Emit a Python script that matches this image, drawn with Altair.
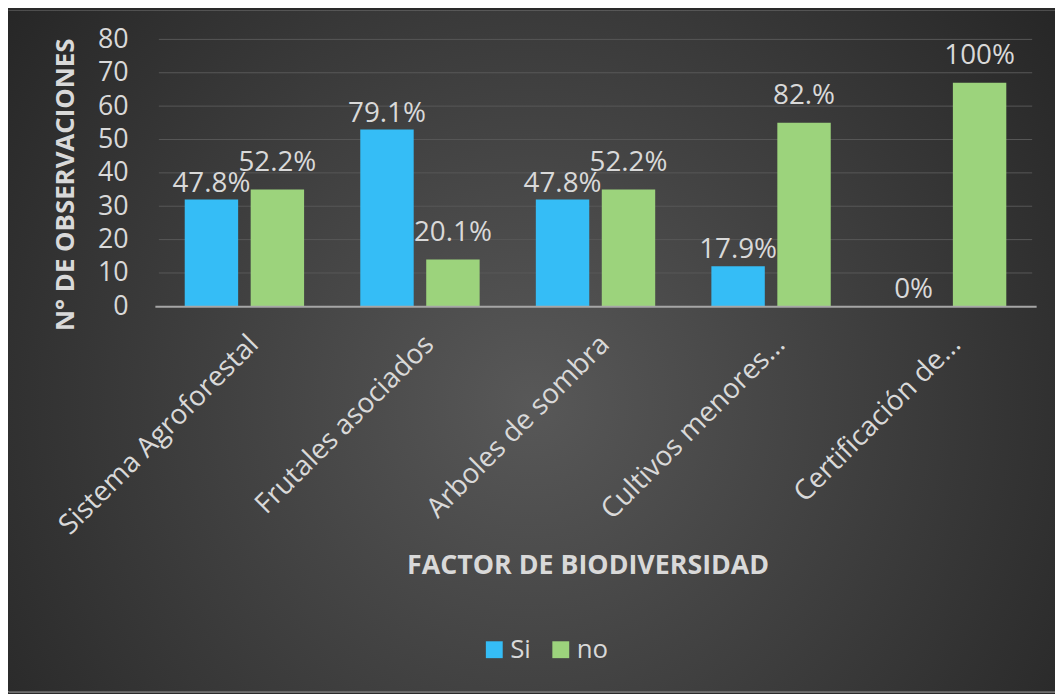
import altair as alt
import pandas as pd

categories = ["Sistema Agroforestal", "Frutales asociados", "Arboles de sombra",
              "Cultivos menores...", "Certificación de..."]
series = ["Si", "no"]
si_values = [32, 53, 32, 12, 0]
no_values = [35, 14, 35, 55, 67]
si_labels = ["47.8%", "79.1%", "47.8%", "17.9%", "0%"]
no_labels = ["52.2%", "20.1%", "52.2%", "82.%", "100%"]
y_ticks = [0, 10, 20, 30, 40, 50, 60, 70, 80]
grid_ticks = [10, 20, 30, 40, 50, 60, 70, 80]
colors = ["#35bdf6", "#9cd37c"]

rows = []
for i, c in enumerate(categories):
    rows.append({"cat": c, "serie": "Si", "val": si_values[i], "lab": si_labels[i]})
    rows.append({"cat": c, "serie": "no", "val": no_values[i], "lab": no_labels[i]})
df = pd.DataFrame(rows)
grid_df = pd.DataFrame({"val": grid_ticks})
bg_df = pd.DataFrame({"k": [0]})

FONT = "Open Sans"
TXT = "#d9d9d9"

x_scale = alt.Scale(domain=categories, range=[148, 1036], paddingInner=0.32, paddingOuter=0.17)
y_scale = alt.Scale(domain=[0, 80], range=[298, 29])
off_scale = alt.Scale(domain=series, paddingInner=0.19, paddingOuter=0)

x_axis = alt.Axis(
    title="FACTOR DE BIODIVERSIDAD", labelAngle=-45, labelFont=FONT, labelFontSize=28,
    labelColor=TXT, labelPadding=24, labelLimit=600, ticks=False, grid=False,
    domainColor="#a6a6a6", domainWidth=2, offset=-388, zindex=1,
    titleFont=FONT, titleFontSize=27, titleFontWeight="bold", titleColor=TXT,
    titleX=584, titleY=261, titleBaseline="middle", titleAlign="center",
)
y_axis = alt.Axis(
    values=y_ticks, title="N° DE OBSERVACIONES", labelFont=FONT, labelFontSize=27,
    labelColor=TXT, labelPadding=31, ticks=False, domain=False, grid=False, offset=-152,
    zindex=1,
    titleFont=FONT, titleFontSize=26, titleFontWeight="bold", titleColor=TXT,
    titleX=-94, titleY=175, titleBaseline="middle", titleAlign="center", titleAngle=270,
)

bg = {
    "gradient": "radial",
    "x1": 0.5, "y1": 0.55, "r1": 0,
    "x2": 0.5, "y2": 0.55, "r2": 0.72,
    "stops": [
        {"offset": 0, "color": "#585858"},
        {"offset": 1, "color": "#1f1f1f"},
    ],
}

background = alt.Chart(bg_df).mark_rect(fill=bg, strokeWidth=0).encode(
    x=alt.value(0), x2=alt.value(1055), y=alt.value(0), y2=alt.value(686),
)

bars = alt.Chart(df).mark_bar().encode(
    x=alt.X("cat:N", scale=x_scale, sort=categories, axis=x_axis),
    xOffset=alt.XOffset("serie:N", scale=off_scale, sort=series),
    y=alt.Y("val:Q", scale=y_scale, axis=y_axis),
    color=alt.Color("serie:N", scale=alt.Scale(domain=series, range=colors), sort=series,
                    legend=alt.Legend(orient="none", legendX=477, legendY=631, direction="horizontal",
                                      title=None, symbolType="square", symbolSize=289,
                                      symbolStrokeWidth=0, labelFont=FONT, labelFontSize=26,
                                      labelColor=TXT, columnPadding=17, labelOffset=3, zindex=1)),
)

grid = alt.Chart(grid_df).mark_rule(color="#585858", strokeWidth=1).encode(
    y=alt.Y("val:Q", scale=y_scale, axis=y_axis),
    x=alt.value(152), x2=alt.value(1032),
)


def label_layer(serie, dy):
    return alt.Chart(df).transform_filter(alt.datum.serie == serie).mark_text(
        baseline="bottom", dy=dy, font=FONT, fontSize=28, color=TXT
    ).encode(
        x=alt.X("cat:N", scale=x_scale, sort=categories),
        xOffset=alt.XOffset("serie:N", scale=off_scale, sort=series),
        y=alt.Y("val:Q", scale=y_scale),
        text="lab:N",
    )


labels_si = label_layer("Si", -2)
labels_no = label_layer("no", -13)

chart = alt.layer(background, grid, bars, labels_si, labels_no).properties(
    width=1055, height=686, autosize="none", padding=0,
).configure_view(stroke="transparent").configure(background="#2a2a2a")

chart.save("out.html", embed_options={"renderer": "svg", "actions": False})
